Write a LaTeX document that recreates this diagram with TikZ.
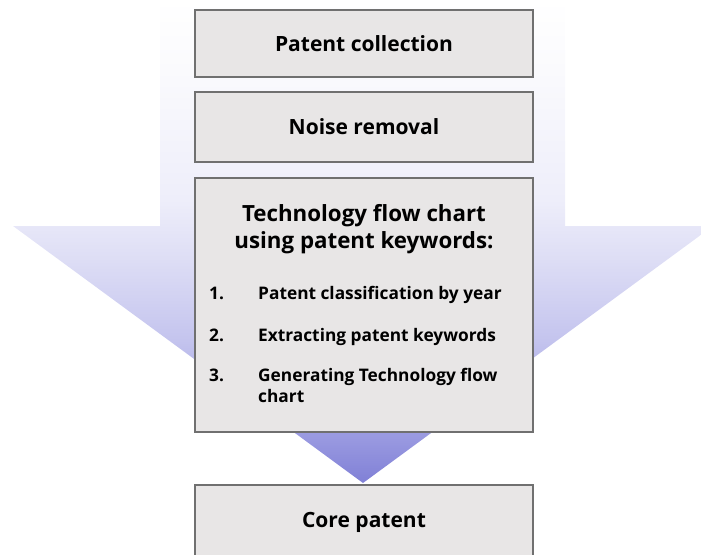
\documentclass[tikz,border=0pt]{standalone}
\usepackage{fontspec}
\setmainfont{Open Sans}
\usepackage{tikz}
\usetikzlibrary{calc}

\definecolor{tipblue}{RGB}{128,128,214}
\definecolor{lowblue}{RGB}{152,152,224}
\definecolor{midblue}{RGB}{196,196,238}
\definecolor{wingblue}{RGB}{221,221,245}
\definecolor{paleblue}{RGB}{238,238,250}
\definecolor{haze}{RGB}{250,250,253}
\definecolor{boxgray}{RGB}{232,230,230}
\definecolor{edgegray}{RGB}{112,112,112}

\pgfdeclareverticalshading{flowfade}{100bp}{color(0bp)=(tipblue); color(25bp)=(tipblue);
  color(29.5bp)=(lowblue); color(39.8bp)=(midblue); color(48bp)=(wingblue);
  color(54.3bp)=(paleblue); color(67.7bp)=(haze); color(75bp)=(white); color(100bp)=(white)}

\begin{document}
\begin{tikzpicture}[x=1pt, y=-1pt,
    stage/.style={draw=edgegray, line width=1.4pt, fill=boxgray, minimum width=338pt,
      inner sep=0pt, font=\bfseries\fontsize{21}{26}\selectfont, align=center},
    item/.style={anchor=base west, inner sep=0pt, font=\bfseries\fontsize{17.3}{21}\selectfont}]

    \useasboundingbox (0,0) rectangle (701,554);

    \shade[shading=flowfade] (160,0) -- (565,0) -- (565,226) -- (713,226) -- (363,483)
        -- (13,226) -- (160,226) -- cycle;

    \node[stage, minimum height=67pt] (a) at (364,43.5) {Patent collection};
    \node[stage, minimum height=70pt] (b) at (364,127) {Noise removal};
    \node[stage, minimum height=254pt] (c) at (364,305) {};
    \node[stage, minimum height=74pt] (d) at (364,522) {Core patent};

    \node[anchor=base, inner sep=0pt, align=center, font=\bfseries\fontsize{22.3}{26.5}\selectfont]
        (t) at (364,248) {Technology flow chart\\using patent keywords:};

    \node[item] (n1) at (209,299) {1.};
    \node[item] (i1) at (258,299) {Patent classification by year};
    \node[item] (n2) at (209,341) {2.};
    \node[item] (i2) at (258,341) {Extracting patent keywords};
    \node[item] (n3) at (209,381) {3.};
    \node[item, align=left] (i3) at (258,402) {Generating Technology flow\\chart};

\end{tikzpicture}
\end{document}
